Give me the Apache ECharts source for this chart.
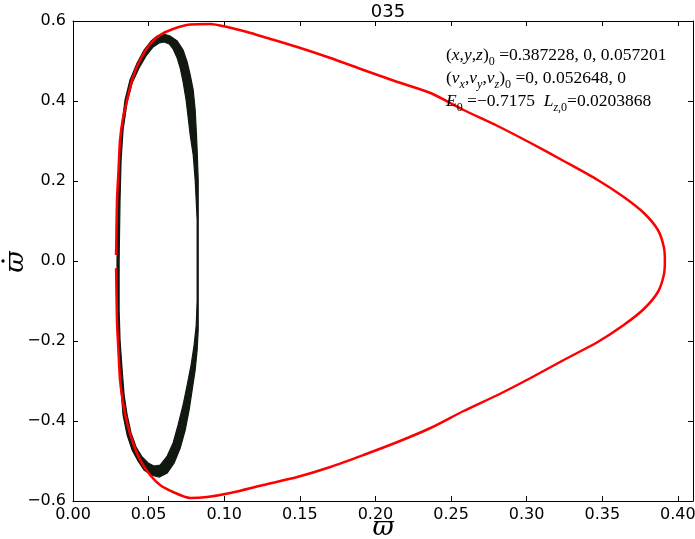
<!DOCTYPE html>
<html><head><meta charset="utf-8">
<script src="https://cdn.jsdelivr.net/npm/echarts@6/dist/echarts.min.js"></script>
<style>html,body{margin:0;padding:0;background:#fff}#c{width:695px;height:539px}</style>
</head><body><div id="c"></div>
<script>
const titleText = '035';
const xAxisTitle = '\u03d6';
const yAxisTitle = '\u03d6';
const xRange = [0, 0.41], xStep = 0.05;
const yRange = [-0.6, 0.6], yStep = 0.2;

// red curve
const redOrbit = [
 [0.0285,0.015],[0.0291,0.1525],[0.0301,0.2275],[0.0311,0.3025],[0.0331,0.3575],[0.0358,0.4025],[0.0397,0.46],
 [0.0444,0.5025],[0.0510,0.5425],[0.0576,0.565],[0.0662,0.58],[0.0775,0.591],[0.0907,0.5925],[0.1020,0.585],
 [0.1152,0.5725],[0.1285,0.5575],[0.1483,0.535],[0.1702,0.5075],[0.1921,0.4775],[0.2146,0.4475],[0.2364,0.42],
 [0.2583,0.3775],[0.2808,0.3375],[0.3026,0.295],[0.3245,0.25],[0.3470,0.2025],[0.3642,0.16],[0.3775,0.12],
 [0.3868,0.0775],[0.3907,0.035],[0.3914,0],
 [0.3907,-0.035],[0.3868,-0.0775],[0.3775,-0.12],[0.3642,-0.16],[0.3470,-0.2025],[0.3245,-0.2475],[0.3026,-0.2925],
 [0.2808,-0.335],[0.2583,-0.375],[0.2364,-0.4175],[0.2146,-0.4525],[0.1921,-0.485],[0.1702,-0.515],[0.1483,-0.54],
 [0.1258,-0.56],[0.1040,-0.58],[0.0887,-0.59],[0.0775,-0.5925],[0.0662,-0.5775],[0.0576,-0.56],[0.0510,-0.535],
 [0.0444,-0.4975],[0.0397,-0.455],[0.0358,-0.405],[0.0331,-0.355],[0.0311,-0.2975],[0.0301,-0.2275],
 [0.0291,-0.1525],[0.0285,-0.018]
];

// black band: outer edge and inner edge
const blackOuter = [
 [0.0291,0],[0.0298,0.1525],[0.0305,0.2525],[0.0318,0.3275],[0.0344,0.4025],[0.0377,0.4525],[0.0424,0.495],
 [0.0470,0.5275],[0.0517,0.55],[0.0556,0.5625],[0.0596,0.5675],[0.0642,0.5625],[0.0689,0.55],[0.0728,0.5275],
 [0.0755,0.4975],[0.0775,0.465],[0.0795,0.4275],[0.0808,0.3775],[0.0815,0.3275],[0.0821,0.2775],[0.0828,0.2025],
 [0.0828,0.1025],[0.0828,0],[0.0828,-0.0975],[0.0828,-0.1725],[0.0821,-0.2225],[0.0808,-0.2725],[0.0788,-0.3225],
 [0.0768,-0.3725],[0.0742,-0.4225],[0.0709,-0.4675],[0.0669,-0.505],[0.0623,-0.53],[0.0570,-0.54],[0.0517,-0.535],
 [0.0470,-0.5225],[0.0430,-0.5],[0.0391,-0.4725],[0.0358,-0.435],[0.0331,-0.385],[0.0318,-0.3225],[0.0305,-0.2475],
 [0.0298,-0.1475],[0.0291,-0.0725]
];
const blackInner = [
 [0.0305,0],[0.0311,0.1525],[0.0318,0.2525],[0.0331,0.3275],[0.0358,0.3975],[0.0391,0.445],[0.0437,0.4825],
 [0.0483,0.5125],[0.0530,0.535],[0.0570,0.545],[0.0603,0.5475],[0.0636,0.5425],[0.0662,0.53],[0.0689,0.5075],
 [0.0709,0.4825],[0.0728,0.4475],[0.0748,0.4025],[0.0762,0.3575],[0.0775,0.315],[0.0795,0.265],[0.0808,0.2025],
 [0.0821,0.1025],[0.0821,0],[0.0821,-0.0975],[0.0815,-0.16],[0.0801,-0.21],[0.0781,-0.26],[0.0755,-0.31],
 [0.0728,-0.36],[0.0695,-0.41],[0.0662,-0.455],[0.0623,-0.4875],[0.0576,-0.51],[0.0536,-0.5125],[0.0497,-0.505],
 [0.0457,-0.49],[0.0417,-0.465],[0.0384,-0.43],[0.0358,-0.385],[0.0338,-0.335],[0.0325,-0.2725],[0.0311,-0.1975],
 [0.0305,-0.1225],[0.0305,-0.0725]
];
const blackBand = blackOuter.concat(blackOuter.slice(0,1), blackInner.slice(0,1), blackInner.slice().reverse());

const serif = "'Liberation Serif', 'DejaVu Serif', serif";
const mathSerif = "'DejaVu Serif', serif";
const annotationText = [
 '{n|(}{i|x}{n|,}{i|y}{n|,}{i|z}{n|)}{s|0}{n| =0.387228, 0, 0.057201}',
 '{n|(}{i|v}{si|x}{n|,}{i|v}{si|y}{n|,}{i|v}{si|z}{n|)}{s|0}{n| =0, 0.052648, 0}',
 '{i|E}{s|0}{n| =\u22120.7175  }{i|L}{si|z}{s|,0}{n|=0.0203868}'
].join('\n');

const chart = echarts.init(document.getElementById('c'), null, {renderer:'canvas'});
const tickFont = {fontFamily:"'DejaVu Sans', sans-serif", fontSize:16, color:'#000'};
const axisCommon = {
  axisLine:{show:true, onZero:false, lineStyle:{color:'#000', width:1}},
  axisTick:{show:true, inside:true, length:5, lineStyle:{color:'#000', width:1}},
  splitLine:{show:false}
};
chart.setOption({
  animation:false,
  backgroundColor:'#fff',
  title:{text:titleText, left:383, top:-2, textAlign:'center',
    textStyle:{fontFamily:"'DejaVu Sans', sans-serif", fontSize:18, fontWeight:'normal', color:'#000'}},
  grid:{left:73, right:2, top:21, bottom:38, containLabel:false, outerBoundsMode:'none'},
  xAxis:[
    Object.assign({type:'value', min:xRange[0], max:xRange[1], interval:xStep, position:'bottom',
      axisLabel:Object.assign({margin:6, showMaxLabel:false, formatter:v=>v.toFixed(2)}, tickFont)}, axisCommon),
    Object.assign({type:'value', min:xRange[0], max:xRange[1], interval:xStep, position:'top',
      axisLabel:{show:false}}, axisCommon)
  ],
  yAxis:[
    Object.assign({type:'value', min:yRange[0], max:yRange[1], interval:yStep, position:'left',
      axisLabel:Object.assign({margin:7, formatter:v=>v.toFixed(1).replace('-','\u2212')}, tickFont)}, axisCommon),
    Object.assign({type:'value', min:yRange[0], max:yRange[1], interval:yStep, position:'right',
      axisLabel:{show:false}}, axisCommon)
  ],
  series:[
    {type:'custom', coordinateSystem:'cartesian2d', xAxisIndex:0, yAxisIndex:0, z:2,
     data:[[0.05,0]],
     renderItem:(params, api)=>({type:'polygon', shape:{points:blackBand.map(p=>api.coord(p))},
        style:{fill:'#101810', stroke:'#101810', lineWidth:1.2}})},
    {type:'line', data:redOrbit, xAxisIndex:0, yAxisIndex:0, z:3, smooth:0.25, symbol:'none',
     lineStyle:{color:'#ff0000', width:2.5}}
  ],
  graphic:[
    {type:'text', left:446, top:46, z:10,
     style:{text:annotationText, fill:'#000',
      rich:{
        n:{fontFamily:serif, fontSize:17.5, lineHeight:23, verticalAlign:'top'},
        i:{fontFamily:serif, fontStyle:'italic', fontSize:17.5, lineHeight:23, verticalAlign:'top'},
        s:{fontFamily:serif, fontSize:12, lineHeight:14, verticalAlign:'top', padding:[10,0,0,0]},
        si:{fontFamily:serif, fontStyle:'italic', fontSize:12, lineHeight:14, verticalAlign:'top', padding:[10,0,0,0]}
      }}},
    {type:'text', x:383, y:528, z:10,
     style:{text:xAxisTitle, fontFamily:mathSerif, fontStyle:'italic', fontSize:26, fill:'#000',
       align:'center', verticalAlign:'middle'}},
    {type:'group', x:16, y:262, rotation:Math.PI/2, z:10, children:[
      {type:'text', x:0, y:0, style:{text:yAxisTitle, fontFamily:mathSerif, fontStyle:'italic', fontSize:26,
        fill:'#000', align:'center', verticalAlign:'middle'}},
      {type:'circle', shape:{cx:1, cy:-13, r:1.7}, style:{fill:'#000'}}
    ]}
  ]
});
</script></body></html>
